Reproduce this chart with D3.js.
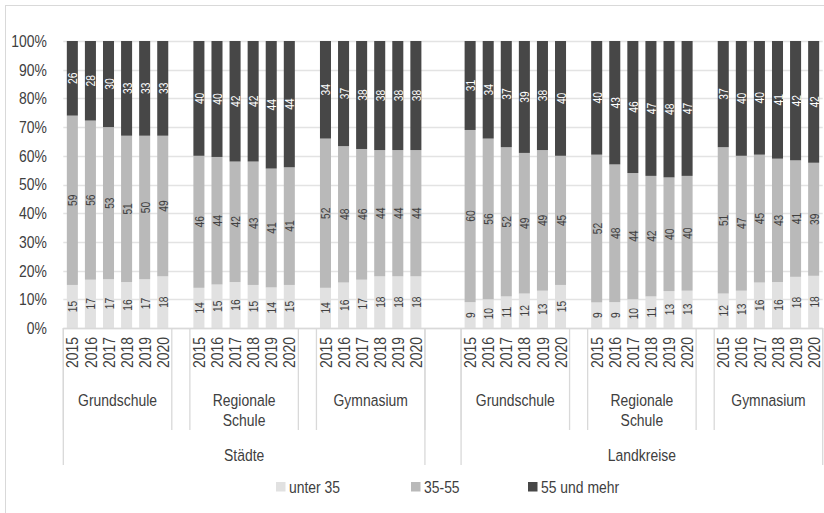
<!DOCTYPE html>
<html><head><meta charset="utf-8">
<script src="https://cdn.jsdelivr.net/npm/d3@7/dist/d3.min.js"></script>
<style>
body{margin:0;background:#fff;}
svg{display:block;font-family:"Liberation Sans",Arial,sans-serif;}
</style></head>
<body>
<svg id="chart" width="824" height="513"></svg>
<script>
// ---- data ----
const regions = ["Städte", "Landkreise"];
const schools = ["Grundschule", "Regionale Schule", "Gymnasium"];
const years = ["2015", "2016", "2017", "2018", "2019", "2020"];
const seriesNames = ["unter 35", "35-55", "55 und mehr"];
const seriesColors = ["#e1e1e1", "#b9b9b9", "#474747"];
const yTicks = [0, 0.1, 0.2, 0.3, 0.4, 0.5, 0.6, 0.7, 0.8, 0.9, 1];

// values per region / school, years 2015-2020
const staedteGrundschule_u35 = [15, 17, 17, 16, 17, 18];
const staedteGrundschule_mid = [59, 56, 53, 51, 50, 49];
const staedteGrundschule_o55 = [26, 28, 30, 33, 33, 33];
const staedteRegionale_u35 = [14, 15, 16, 15, 14, 15];
const staedteRegionale_mid = [46, 44, 42, 43, 41, 41];
const staedteRegionale_o55 = [40, 40, 42, 42, 44, 44];
const staedteGymnasium_u35 = [14, 16, 17, 18, 18, 18];
const staedteGymnasium_mid = [52, 48, 46, 44, 44, 44];
const staedteGymnasium_o55 = [34, 37, 38, 38, 38, 38];
const landGrundschule_u35 = [9, 10, 11, 12, 13, 15];
const landGrundschule_mid = [60, 56, 52, 49, 49, 45];
const landGrundschule_o55 = [31, 34, 37, 39, 38, 40];
const landRegionale_u35 = [9, 9, 10, 11, 13, 13];
const landRegionale_mid = [52, 48, 44, 42, 40, 40];
const landRegionale_o55 = [40, 43, 46, 47, 48, 47];
const landGymnasium_u35 = [12, 13, 16, 16, 18, 18];
const landGymnasium_mid = [51, 47, 45, 43, 41, 39];
const landGymnasium_o55 = [37, 40, 40, 41, 42, 42];

const values = {
  "Städte": {
    "Grundschule": [staedteGrundschule_u35, staedteGrundschule_mid, staedteGrundschule_o55],
    "Regionale Schule": [staedteRegionale_u35, staedteRegionale_mid, staedteRegionale_o55],
    "Gymnasium": [staedteGymnasium_u35, staedteGymnasium_mid, staedteGymnasium_o55]
  },
  "Landkreise": {
    "Grundschule": [landGrundschule_u35, landGrundschule_mid, landGrundschule_o55],
    "Regionale Schule": [landRegionale_u35, landRegionale_mid, landRegionale_o55],
    "Gymnasium": [landGymnasium_u35, landGymnasium_mid, landGymnasium_o55]
  }
};

// ---- build slots (with blank slots between groups) ----
const slots = [];
const rows = [];
regions.forEach((r, ri) => {
  if (ri > 0) { slots.push({key: "gapR" + ri + "a", blank: true}); slots.push({key: "gapR" + ri + "b", blank: true}); }
  schools.forEach((s, si) => {
    if (si > 0) slots.push({key: "gap" + r + si, blank: true});
    years.forEach((yr, yi) => {
      const key = r + "|" + s + "|" + yr;
      slots.push({key, region: r, school: s, year: yr});
      const row = {key, region: r, school: s, year: yr};
      seriesNames.forEach((n, ni) => row[n] = values[r][s][ni][yi]);
      rows.push(row);
    });
  });
});

const svg = d3.select("#chart");
const W = 824, H = 513;
const plotLeft = 63.3, plotRight = 822.7, plotTop = 41, plotBottom = 328;
const textColor = "#404040";
const mainSize = "17px";
const cond = 0.82; // horizontal condensing of glyphs (narrow face)

// chart border
svg.append("rect").attr("x", 5.5).attr("y", 5.5).attr("width", W).attr("height", H)
  .attr("fill", "none").attr("stroke", "#d9d9d9").attr("stroke-width", 1);

const x = d3.scaleBand().domain(slots.map(d => d.key)).range([plotLeft, plotRight])
  .paddingInner(0.39).paddingOuter(0.195);
const y = d3.scaleLinear().domain([0, 1]).range([plotBottom, plotTop]);

// gridlines
svg.append("g").selectAll("line").data(yTicks).join("line")
  .attr("x1", plotLeft).attr("x2", plotRight)
  .attr("y1", d => Math.round(y(d)) + 0.5).attr("y2", d => Math.round(y(d)) + 0.5)
  .attr("stroke", "#e3e3e3").attr("stroke-width", 1.3);

// y axis labels
const yAxis = d3.axisLeft(y).tickValues(yTicks).tickFormat(d3.format(".0%")).tickSize(0).tickPadding(0);
const yg = svg.append("g").attr("transform", `translate(47,0)`).call(yAxis);
yg.select(".domain").remove();
yg.attr("font-family", null);
yg.selectAll("text").attr("font-size", mainSize).attr("fill", textColor)
  .attr("x", 0).attr("transform", `scale(${cond},1)`);

// stacked bars
const stack = d3.stack().keys(seriesNames).offset(d3.stackOffsetExpand);
const stacked = stack(rows);

const bars = svg.append("g");
stacked.forEach((layer, li) => {
  bars.append("g").attr("fill", seriesColors[li]).selectAll("rect").data(layer).join("rect")
    .attr("x", d => x(d.data.key))
    .attr("width", x.bandwidth())
    .attr("y", d => y(d[1]))
    .attr("height", d => y(d[0]) - y(d[1]));
});

// data labels
stacked.forEach((layer, li) => {
  svg.append("g").selectAll("text").data(layer).join("text")
    .attr("transform", d => `translate(${x(d.data.key) + x.bandwidth() / 2 + 0.5},${y((d[0] + d[1]) / 2)}) rotate(-90) scale(${cond},1)`)
    .attr("text-anchor", "middle").attr("dy", "0.36em")
    .attr("font-size", "12.5px")
    .attr("fill", li === 2 ? "#ffffff" : textColor)
    .text(d => d.data[seriesNames[li]]);
});

// x axis baseline
svg.append("line").attr("x1", plotLeft).attr("x2", plotRight).attr("y1", plotBottom + 0.5).attr("y2", plotBottom + 0.5)
  .attr("stroke", "#d9d9d9").attr("stroke-width", 1.3);

// year labels via axis
const xAxis = d3.axisBottom(x).tickValues(slots.filter(d => !d.blank).map(d => d.key))
  .tickFormat(k => k.split("|")[2]).tickSize(0).tickPadding(0);
const xg = svg.append("g").attr("transform", `translate(0,${plotBottom})`).call(xAxis);
xg.select(".domain").remove();
xg.attr("font-family", null);
xg.selectAll("text").attr("font-size", mainSize).attr("fill", textColor)
  .attr("transform", `rotate(-90) scale(${cond},1)`).attr("text-anchor", "end")
  .attr("x", -9 / cond).attr("y", 0).attr("dy", "0.36em");

// separators
const step = x.step();
const slotIndex = k => slots.findIndex(s => s.key === k);
const sep = svg.append("g").attr("stroke", "#d9d9d9").attr("stroke-width", 1.3);
const groupBounds = [];
regions.forEach(r => {
  const rKeys = slots.filter(s => s.region === r).map(s => s.key);
  const r0 = plotLeft + slotIndex(rKeys[0]) * step, r1 = plotLeft + (slotIndex(rKeys[rKeys.length - 1]) + 1) * step;
  groupBounds.push({type: "region", label: r, x0: r0, x1: r1});
  schools.forEach(s => {
    const sKeys = slots.filter(d => d.region === r && d.school === s).map(d => d.key);
    const s0 = plotLeft + slotIndex(sKeys[0]) * step, s1 = plotLeft + (slotIndex(sKeys[sKeys.length - 1]) + 1) * step;
    groupBounds.push({type: "school", label: s, x0: s0, x1: s1});
  });
});
groupBounds.forEach(g => {
  const yEnd = g.type === "region" ? 465 : 430;
  [g.x0, g.x1].forEach(xx => {
    sep.append("line").attr("x1", xx).attr("x2", xx).attr("y1", plotBottom).attr("y2", yEnd);
  });
});

// group labels
groupBounds.filter(g => g.type === "school").forEach(g => {
  const words = g.label === "Regionale Schule" ? ["Regionale", "Schule"] : [g.label];
  const t = svg.append("text")
    .attr("transform", `translate(${(g.x0 + g.x1) / 2},406) scale(${cond},1)`)
    .attr("text-anchor", "middle").attr("font-size", mainSize).attr("fill", textColor);
  words.forEach((w, i) => t.append("tspan").attr("x", 0).attr("dy", i === 0 ? 0 : 20).text(w));
});
groupBounds.filter(g => g.type === "region").forEach(g => {
  svg.append("text").attr("transform", `translate(${(g.x0 + g.x1) / 2},461) scale(${cond},1)`)
    .attr("text-anchor", "middle").attr("font-size", mainSize).attr("fill", textColor).text(g.label);
});

// legend
const legendX = [276, 411, 528];
const lg = svg.append("g");
seriesNames.forEach((n, i) => {
  lg.append("rect").attr("x", legendX[i]).attr("y", 482).attr("width", 9.5).attr("height", 9.5).attr("fill", seriesColors[i]);
  lg.append("text").attr("transform", `translate(${legendX[i] + 13},493) scale(${cond},1)`)
    .attr("font-size", mainSize).attr("fill", textColor).text(n);
});
</script>
</body></html>
